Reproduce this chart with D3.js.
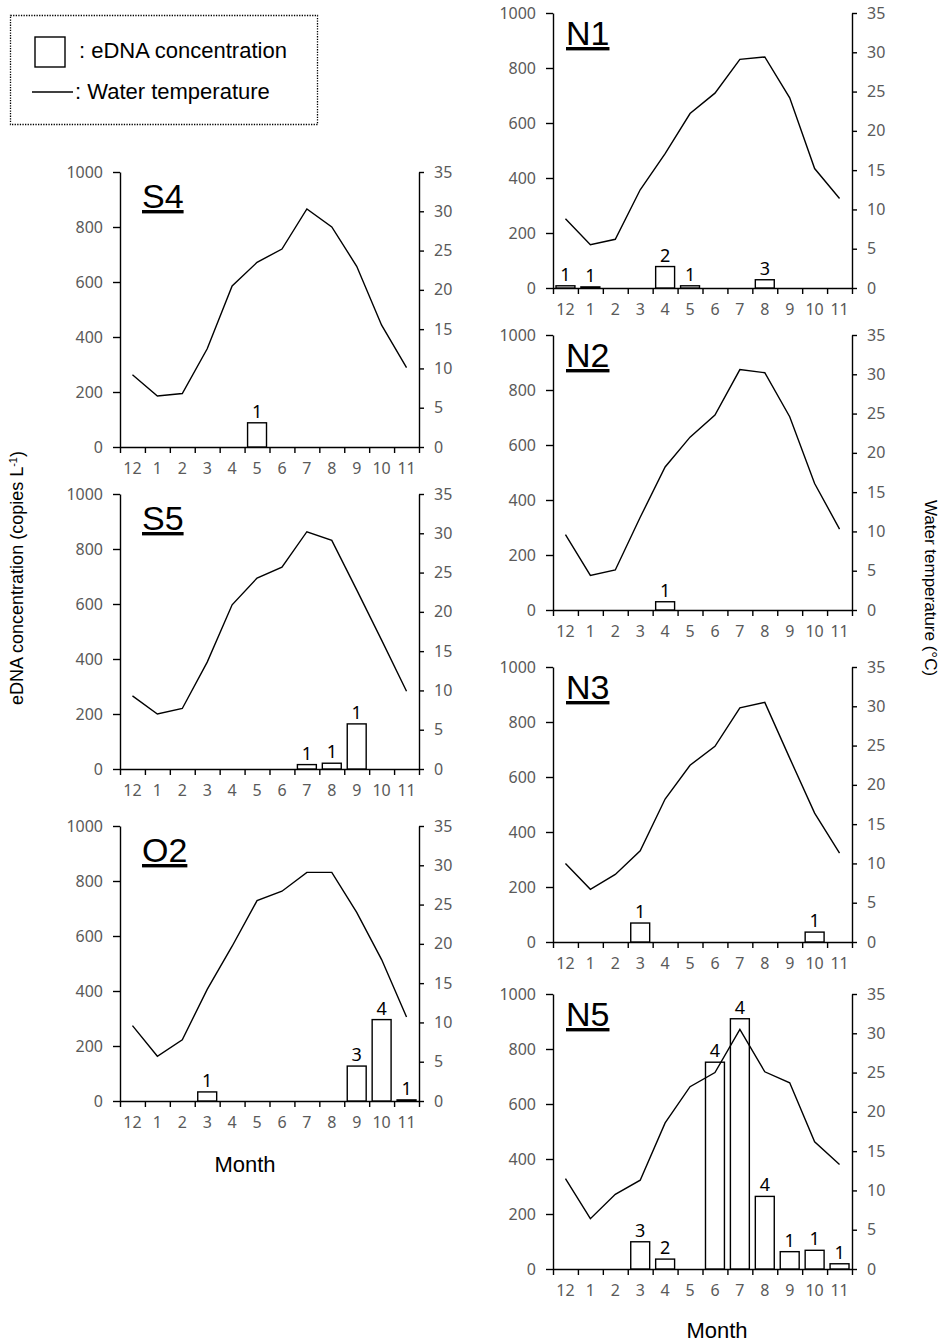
<!DOCTYPE html>
<html>
<head>
<meta charset="utf-8">
<script src="https://cdn.jsdelivr.net/npm/d3@7"></script>
<style>
  body { margin: 0; background: #fff; }
  svg text { font-family: "Liberation Sans", Arial, sans-serif; }
  .tick text { font-family: "Noto Sans", sans-serif; fill: #5a5a5a; font-size: 16px; }
</style>
</head>
<body>
<div id="chart"></div>
<script>
// months from December to November
const months = ["12", "1", "2", "3", "4", "5", "6", "7", "8", "9", "10", "11"];
const concTicks = [0, 200, 400, 600, 800, 1000];
const tempTicks = [0, 5, 10, 15, 20, 25, 30, 35];

// water temperature (°C) per site
const s4Temp = [9.2, 6.5, 6.8, 12.5, 20.5, 23.5, 25.2, 30.3, 28.0, 23.0, 15.5, 10.1];
const s5Temp = [9.3, 7.0, 7.7, 13.6, 20.9, 24.3, 25.7, 30.2, 29.1, 22.8, 16.4, 9.9];
const o2Temp = [9.6, 5.7, 7.8, 14.2, 19.7, 25.5, 26.7, 29.1, 29.1, 24.0, 18.0, 10.7];
const n1Temp = [8.8, 5.5, 6.2, 12.5, 17.1, 22.2, 24.8, 29.1, 29.4, 24.2, 15.2, 11.4];
const n2Temp = [9.6, 4.4, 5.1, 11.8, 18.2, 22.0, 24.8, 30.6, 30.2, 24.6, 16.1, 10.3];
const n3Temp = [10.0, 6.7, 8.6, 11.6, 18.2, 22.5, 24.9, 29.8, 30.5, 23.4, 16.4, 11.3];
const n5Temp = [11.5, 6.4, 9.5, 11.3, 18.6, 23.2, 25.0, 30.5, 25.1, 23.7, 16.2, 13.3];

// eDNA concentration (copies/L), 0 = not detected
const s4Conc = [0, 0, 0, 0, 0, 88, 0, 0, 0, 0, 0, 0];
const s5Conc = [0, 0, 0, 0, 0, 0, 0, 16, 21, 164, 0, 0];
const o2Conc = [0, 0, 0, 33, 0, 0, 0, 0, 0, 127, 296, 4];
const n1Conc = [8, 4, 0, 0, 78, 8, 0, 0, 30, 0, 0, 0];
const n2Conc = [0, 0, 0, 0, 30, 0, 0, 0, 0, 0, 0, 0];
const n3Conc = [0, 0, 0, 69, 0, 0, 0, 0, 0, 0, 36, 0];
const n5Conc = [0, 0, 0, 99, 36, 0, 752, 910, 264, 63, 68, 19];

// number of positive samples written above each bar
const s4Count = [0, 0, 0, 0, 0, 1, 0, 0, 0, 0, 0, 0];
const s5Count = [0, 0, 0, 0, 0, 0, 0, 1, 1, 1, 0, 0];
const o2Count = [0, 0, 0, 1, 0, 0, 0, 0, 0, 3, 4, 1];
const n1Count = [1, 1, 0, 0, 2, 1, 0, 0, 3, 0, 0, 0];
const n2Count = [0, 0, 0, 0, 1, 0, 0, 0, 0, 0, 0, 0];
const n3Count = [0, 0, 0, 1, 0, 0, 0, 0, 0, 0, 1, 0];
const n5Count = [0, 0, 0, 3, 2, 0, 4, 4, 4, 1, 1, 1];

const panels = [
  { name: "S4", temp: s4Temp, conc: s4Conc, count: s4Count, x: 120, y: 172, col: 0 },
  { name: "S5", temp: s5Temp, conc: s5Conc, count: s5Count, x: 120, y: 494, col: 0 },
  { name: "O2", temp: o2Temp, conc: o2Conc, count: o2Count, x: 120, y: 826, col: 0 },
  { name: "N1", temp: n1Temp, conc: n1Conc, count: n1Count, x: 553, y: 13, col: 1 },
  { name: "N2", temp: n2Temp, conc: n2Conc, count: n2Count, x: 553, y: 335, col: 1 },
  { name: "N3", temp: n3Temp, conc: n3Conc, count: n3Count, x: 553, y: 667, col: 1 },
  { name: "N5", temp: n5Temp, conc: n5Conc, count: n5Count, x: 553, y: 994, col: 1 }
];

const width = 944, height = 1343;
const pw = 299, ph = 275;

const svg = d3.select("#chart").append("svg")
  .attr("width", width)
  .attr("height", height);

const x = d3.scaleBand().domain(months).range([0, pw]);
const xEdge = d3.scaleLinear().domain([0, months.length]).range([0, pw]);
const yConc = d3.scaleLinear().domain([0, 1000]).range([ph, 0]);
const yTemp = d3.scaleLinear().domain([0, 35]).range([ph, 0]);
const barW = x.bandwidth() * 0.76;

const line = d3.line()
  .x((d, i) => x(months[i]) + x.bandwidth() / 2)
  .y(d => yTemp(d));

panels.forEach(p => {
  const g = svg.append("g").attr("transform", `translate(${p.x},${p.y})`);

  // left axis
  const la = g.append("g")
    .call(d3.axisLeft(yConc).tickValues(concTicks).tickFormat(d3.format("d"))
      .tickSize(7).tickSizeOuter(0).tickPadding(10));
  // right axis
  const ra = g.append("g").attr("transform", `translate(${pw},0)`)
    .call(d3.axisRight(yTemp).tickValues(tempTicks).tickSize(5).tickSizeOuter(0).tickPadding(10));
  // x ticks at month boundaries
  const xt = g.append("g").attr("transform", `translate(0,${ph})`)
    .call(d3.axisBottom(xEdge).tickValues(d3.range(months.length + 1)).tickSize(6).tickSizeOuter(0).tickFormat(""));
  // month labels
  const xl = g.append("g").attr("transform", `translate(0,${ph})`)
    .call(d3.axisBottom(x).tickSize(0).tickPadding(16));
  xl.select(".domain").remove();

  [la, ra, xt].forEach(a => {
    a.selectAll("path, line").attr("stroke", "#000").attr("stroke-width", 1.4);
  });

  const bars = p.conc.map((c, i) => ({ m: months[i], c: c, n: p.count[i] })).filter(d => d.c > 0);

  g.selectAll("rect.bar").data(bars).enter().append("rect")
    .attr("class", "bar")
    .attr("x", d => x(d.m) + (x.bandwidth() - barW) / 2)
    .attr("y", d => yConc(d.c))
    .attr("width", barW)
    .attr("height", d => ph - yConc(d.c))
    .attr("fill", "#fff")
    .attr("stroke", "#000")
    .attr("stroke-width", 1.4);

  g.selectAll("text.cnt").data(bars).enter().append("text")
    .attr("class", "cnt")
    .attr("x", d => x(d.m) + x.bandwidth() / 2)
    .attr("y", d => yConc(d.c) - 5)
    .attr("text-anchor", "middle")
    .style("font-family", "'Noto Sans', sans-serif")
    .style("font-size", "18px")
    .text(d => d.n);

  g.append("path").datum(p.temp)
    .attr("fill", "none")
    .attr("stroke", "#000")
    .attr("stroke-width", 1.4)
    .attr("d", line);

  g.append("text")
    .attr("x", p.col === 0 ? 22 : 13)
    .attr("y", p.col === 0 ? 36 : 32)
    .style("font-size", "34px")
    .style("text-decoration", "underline")
    .text(p.name);
});

// axis titles
svg.append("text")
  .attr("transform", "translate(23,578) rotate(-90)")
  .attr("text-anchor", "middle")
  .style("font-size", "18px")
  .html("eDNA concentration (copies L<tspan dy='-6' font-size='11'>-1</tspan><tspan dy='6'>)</tspan>");

svg.append("text")
  .attr("transform", "translate(925,588) rotate(90)")
  .attr("text-anchor", "middle")
  .style("font-size", "17px")
  .text("Water temperature (\u00b0C)");

svg.append("text").attr("x", 245).attr("y", 1172)
  .attr("text-anchor", "middle").style("font-size", "22px").text("Month");
svg.append("text").attr("x", 717).attr("y", 1338)
  .attr("text-anchor", "middle").style("font-size", "22px").text("Month");

// legend
const lg = svg.append("g");
lg.append("rect").attr("x", 10.5).attr("y", 15.5).attr("width", 307).attr("height", 109)
  .attr("fill", "none").attr("stroke", "#000").attr("stroke-width", 1.3).attr("stroke-dasharray", "1.3,1.3");
lg.append("rect").attr("x", 35).attr("y", 37).attr("width", 30).attr("height", 30)
  .attr("fill", "#fff").attr("stroke", "#000").attr("stroke-width", 1.4);
lg.append("text").attr("x", 79).attr("y", 58).style("font-size", "22px").text(": eDNA concentration");
lg.append("line").attr("x1", 32).attr("x2", 73).attr("y1", 92).attr("y2", 92)
  .attr("stroke", "#000").attr("stroke-width", 1.4);
lg.append("text").attr("x", 75).attr("y", 99).style("font-size", "22px").text(": Water temperature");
</script>
</body>
</html>
